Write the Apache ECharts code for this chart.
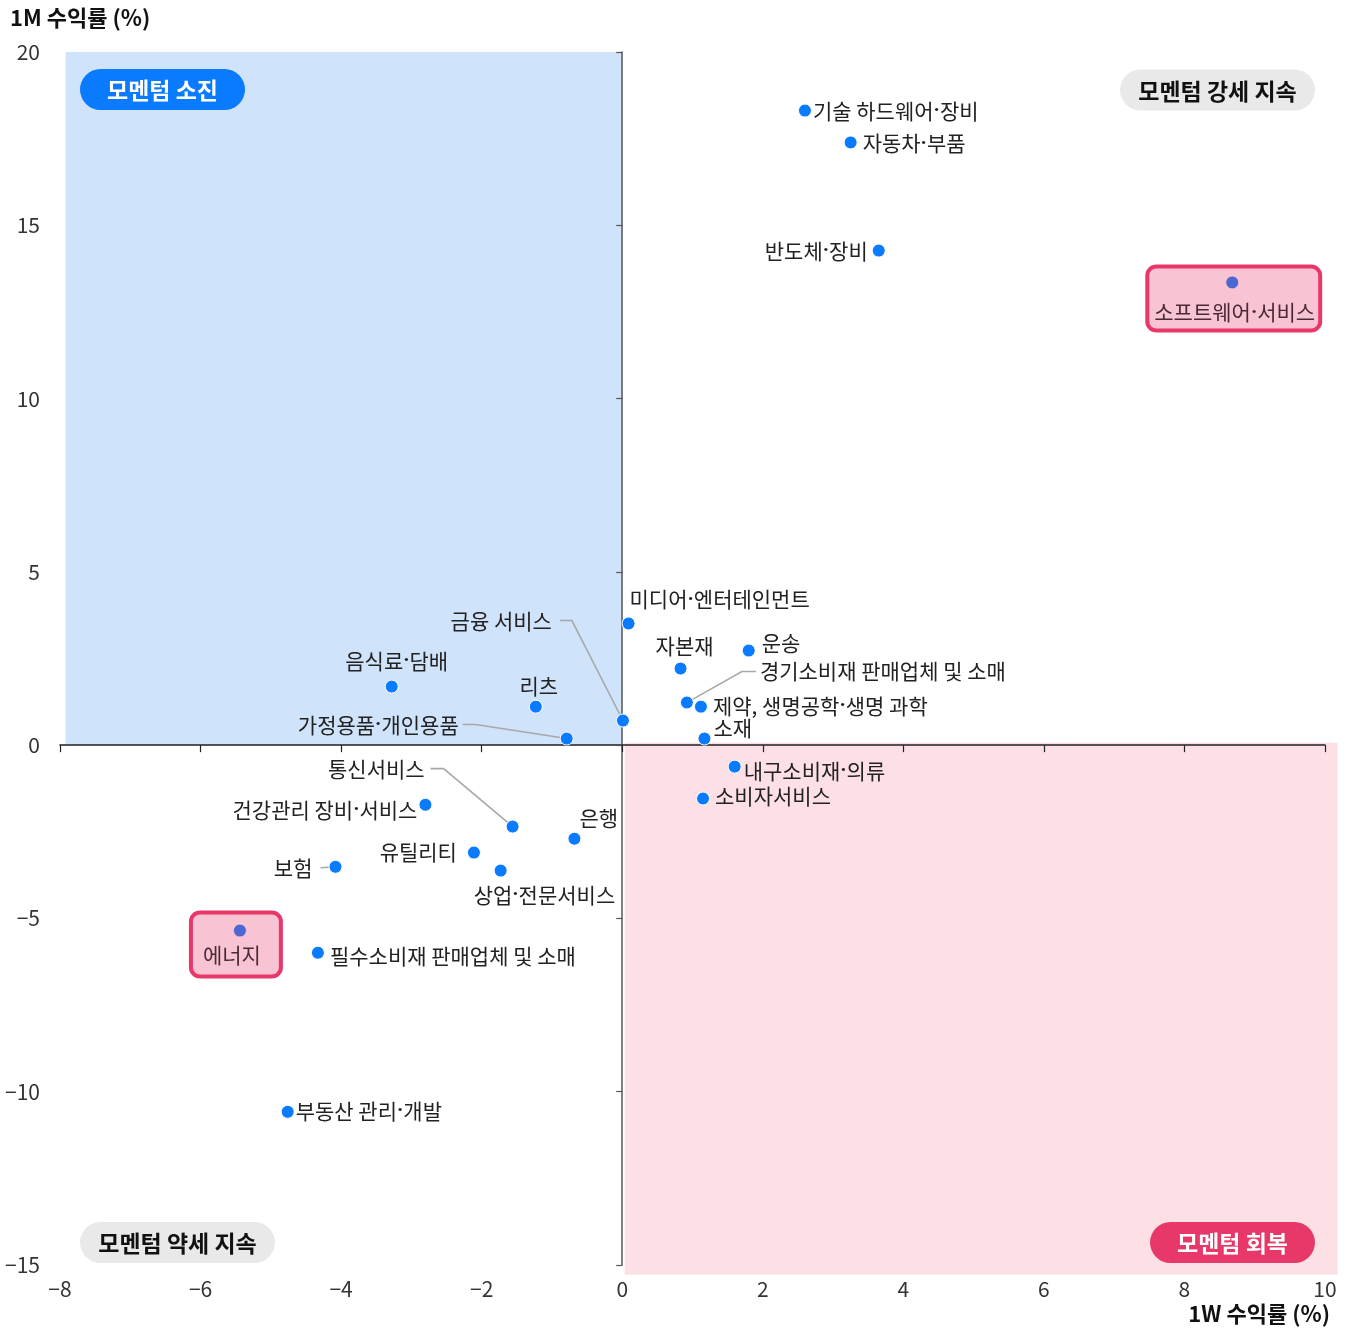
<!DOCTYPE html>
<html><head><meta charset="utf-8">
<script src="https://cdn.jsdelivr.net/npm/echarts@6/dist/echarts.min.js"></script>
<style>html,body{margin:0;padding:0;background:#fff}#c{width:1352px;height:1331px}</style>
</head><body><div id="c"></div>
<script>
// ---------- data ----------
const sectors = ['기술 하드웨어·장비','자동차·부품','반도체·장비','소프트웨어·서비스','미디어·엔터테인먼트','금융 서비스','자본재','운송','경기소비재 판매업체 및 소매','제약, 생명공학·생명 과학','소재','음식료·담배','리츠','가정용품·개인용품','내구소비재·의류','소비자서비스','통신서비스','건강관리 장비·서비스','은행','유틸리티','상업·전문서비스','보험','에너지','필수소비재 판매업체 및 소매','부동산 관리·개발'];
const ret1W = [2.60,3.25,3.65,8.68,0.09,0.01,0.83,1.80,0.92,1.12,1.17,-3.28,-1.23,-0.79,1.60,1.15,-1.56,-2.80,-0.68,-2.11,-1.73,-4.08,-5.44,-4.33,-4.76];
const ret1M = [18.31,17.39,14.27,13.35,3.51,0.71,2.21,2.73,1.23,1.11,0.19,1.69,1.11,0.19,-0.62,-1.54,-2.35,-1.72,-2.70,-3.10,-3.62,-3.51,-5.35,-5.99,-10.58];
const highlighted = ['소프트웨어·서비스','에너지'];
const xTickValues = [-8,-6,-4,-2,0,2,4,6,8,10];
const yTickValues = [-15,-10,-5,0,5,10,15,20];
const xAxisTitle = '1W 수익률 (%)';
const yAxisTitle = '1M 수익률 (%)';
const quadrantNames = ['모멘텀 소진','모멘텀 강세 지속','모멘텀 약세 지속','모멘텀 회복'];
// shaded quadrant extents [x0, y0, x1, y1]
const quadrantBlue = [-7.92, 20, 0, 0];
const quadrantPink = [0.035, 0.07, 10.18, -15.28];

// ---------- layout (styles / positions) ----------
const FONT = '"Noto Sans CJK KR", "Noto Sans", sans-serif';
const LFS = 21;
const labelPlace = {
 '기술 하드웨어·장비': ['left', 8, 0],
 '자동차·부품': ['left', 12, 1],
 '반도체·장비': ['right', -11, 0],
 '미디어·엔터테인먼트': ['left', 1, -24],
 '자본재': ['center', 4, -23],
 '운송': ['left', 13, -8],
 '제약, 생명공학·생명 과학': ['left', 12, -1],
 '소재': ['left', 9, -11],
 '음식료·담배': ['center', 5, -26],
 '리츠': ['center', 3, -21],
 '내구소비재·의류': ['left', 9, 4],
 '소비자서비스': ['left', 12, -2],
 '건강관리 장비·서비스': ['right', -8, 5],
 '은행': ['left', 5, -21],
 '유틸리티': ['right', -17, -1],
 '상업·전문서비스': ['left', -27, 24],
 '필수소비재 판매업체 및 소매': ['left', 12, 3],
 '부동산 관리·개발': ['left', 8, -1]
};
const leaderPlace = {
 '금융 서비스': ['right', -63, -100, [0,8,0,0], 12],
 '경기소비재 판매업체 및 소매': ['left', 69, -31, [0,0,0,4], 14],
 '가정용품·개인용품': ['right', -104, -14, [0,4,0,0], 13],
 '통신서비스': ['right', -82, -58, [0,6,0,0], 13],
 '보험': ['right', -15, 1, [0,8,0,0], 0]
};
const boxPlace = {
 '소프트웨어·서비스': [1.5, -16, [35,5,7,7]],
 '에너지': [-4, -18, [31,20,11,12]]
};

const dotRich = { d: { fontFamily: 'Roboto', fontWeight: 'bold', fontSize: LFS, lineHeight: 22 } };
const fmt = name => name.replace(/·/g, '{d|·}');

const points = sectors.map((name, i) => {
  const item = { name, value: [ret1W[i], ret1M[i]] };
  const base = { show: true, position: 'inside', verticalAlign: 'middle', color: '#222', fontSize: LFS,
    fontFamily: FONT, formatter: fmt(name), rich: dotRich, textBorderWidth: 0, lineHeight: 22 };
  if (highlighted.includes(name)) {
    const b = boxPlace[name];
    item.label = Object.assign({}, base, { align: 'center', verticalAlign: 'top', offset: [b[0], b[1]], padding: b[2],
      backgroundColor: 'rgba(232,56,106,0.3)', borderColor: '#e8386a', borderWidth: 2, borderRadius: 9,
      color: '#4a2a36' });
  } else if (leaderPlace[name]) {
    const l = leaderPlace[name];
    item.label = Object.assign({}, base, { align: l[0], offset: [l[1], l[2]], padding: l[3] });
    item.labelLine = { show: true, length2: l[4], smooth: false, minTurnAngle: 0,
      lineStyle: { color: '#a8a8a8', width: 1.6 } };
  } else {
    const p = labelPlace[name];
    item.label = Object.assign({}, base, { align: p[0], offset: [p[1], p[2]] });
  }
  return item;
});

const minus = v => String(v).replace('-', '\u2212');
const xMin = xTickValues[0], xMax = xTickValues[xTickValues.length-1], xInt = xTickValues[1]-xTickValues[0];
const yMin = yTickValues[0], yMax = yTickValues[yTickValues.length-1], yInt = yTickValues[1]-yTickValues[0];

function pill(cx, cy, w, h, text, fill, color) {
  return { type: 'group', z: 100, children: [
    { type: 'rect', z: 100, shape: { x: cx - w/2, y: cy - h/2, width: w, height: h, r: h/2 }, style: { fill } },
    { type: 'text', z: 101, x: cx, y: cy + 1, style: { text, fill: color, font: 'bold 23px ' + FONT, align: 'center', verticalAlign: 'middle' } }
  ]};
}

const chart = echarts.init(document.getElementById('c'), null, { renderer: 'canvas' });
chart.setOption({
  animation: false,
  grid: { left: 60, right: 27, top: 52, bottom: 66 },
  xAxis: [
    { type: 'value', min: xMin, max: xMax, interval: xInt, position: 'bottom',
      axisLine: { show: false, onZero: false }, axisTick: { show: false }, splitLine: { show: false },
      axisLabel: { margin: 14, fontSize: 21, color: '#333', fontFamily: FONT, formatter: minus } },
    { type: 'value', min: xMin, max: xMax, interval: xInt, position: 'bottom', z: 5,
      axisLine: { show: true, onZero: true, onZeroAxisIndex: 0, lineStyle: { color: '#222', width: 1.5 } },
      axisTick: { show: true, length: 7, lineStyle: { color: '#222', width: 1.2 } },
      axisLabel: { show: false }, splitLine: { show: false } }
  ],
  yAxis: [
    { type: 'value', min: yMin, max: yMax, interval: yInt, position: 'left',
      axisLine: { show: false, onZero: false }, axisTick: { show: false }, splitLine: { show: false },
      axisLabel: { margin: 20, fontSize: 21, color: '#333', fontFamily: FONT, formatter: minus } },
    { type: 'value', min: yMin, max: yMax, interval: yInt, position: 'left', z: 5,
      axisLine: { show: true, onZero: true, onZeroAxisIndex: 0, lineStyle: { color: '#555', width: 1.5 } },
      axisTick: { show: true, length: 6, lineStyle: { color: '#555', width: 1.2 } },
      axisLabel: { show: false }, splitLine: { show: false } }
  ],
  graphic: [
    { type: 'text', left: 10, top: 7, z: 100, style: { text: yAxisTitle, fill: '#111', font: 'bold 22px ' + FONT } },
    { type: 'text', right: 22, top: 1303, z: 100, style: { text: xAxisTitle, fill: '#111', font: 'bold 22px ' + FONT } },
    pill(162.5, 89.5, 165, 41, quadrantNames[0], '#0a7aff', '#fff'),
    pill(1217.5, 90, 195, 41, quadrantNames[1], '#e9e9e9', '#111'),
    pill(177.5, 1242.5, 195, 41, quadrantNames[2], '#e9e9e9', '#111'),
    pill(1232.5, 1242.5, 165, 41, quadrantNames[3], '#e8386a', '#fff')
  ],
  series: [
    { type: 'custom', xAxisIndex: 0, yAxisIndex: 0, silent: true, z: 1, clip: false,
      data: [quadrantBlue, quadrantPink],
      renderItem: (params, api) => {
        const p0 = api.coord([api.value(0), api.value(1)]);
        const p1 = api.coord([api.value(2), api.value(3)]);
        return { type: 'rect', shape: { x: p0[0], y: p0[1], width: p1[0]-p0[0], height: p1[1]-p0[1] },
          style: { fill: params.dataIndex === 0 ? '#cfe3fa' : '#fde0e6' } };
      } },
    { type: 'scatter', xAxisIndex: 0, yAxisIndex: 0, z: 10, clip: false, silent: true,
      symbolSize: 13,
      itemStyle: { color: '#0a7aff', borderColor: '#fff', borderWidth: 1, opacity: 1 },
      data: points }
  ]
});
</script></body></html>
